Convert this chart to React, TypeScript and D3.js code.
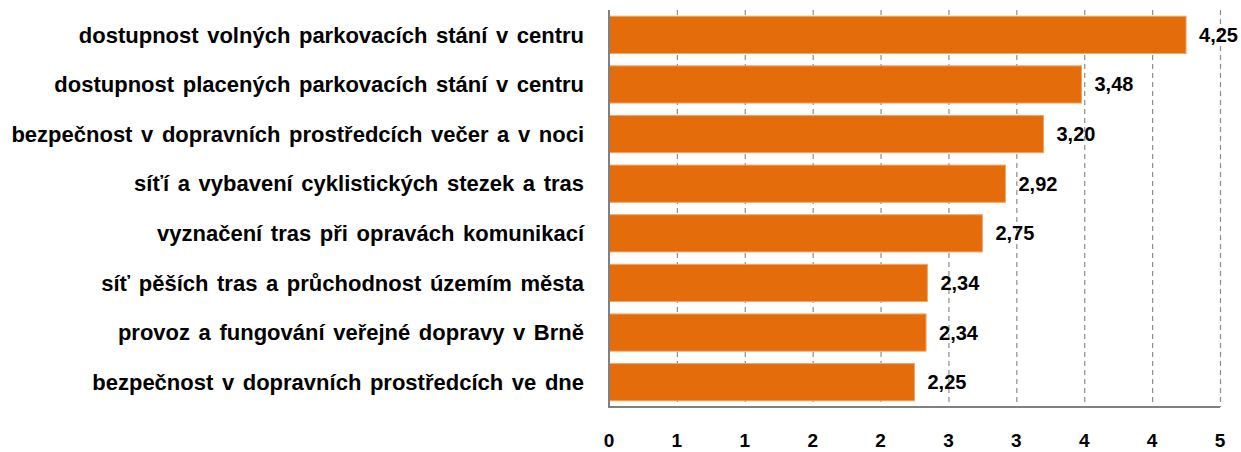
import React, { useEffect, useRef } from 'react';
import * as d3 from 'd3';

// data
const categories = [
	'dostupnost volných parkovacích stání v centru',
	'dostupnost placených parkovacích stání v centru',
	'bezpečnost v dopravních prostředcích večer a v noci',
	'síťí a vybavení cyklistických stezek a tras',
	'vyznačení tras při opravách komunikací',
	'síť pěších tras a průchodnost územím města',
	'provoz a fungování veřejné dopravy v Brně',
	'bezpečnost v dopravních prostředcích ve dne',
];
const values = [4.25, 3.48, 3.20, 2.92, 2.75, 2.345, 2.335, 2.25];
const valueLabels = ['4,25', '3,48', '3,20', '2,92', '2,75', '2,34', '2,34', '2,25'];
const tickValues = [0, 0.5, 1, 1.5, 2, 2.5, 3, 3.5, 4, 4.5];
const tickLabels = ['0', '1', '1', '2', '2', '3', '3', '4', '4', '5'];

const W = 1241;
const H = 452;
const margin = { left: 609, right: 21, top: 10, bottom: 45 };
const font = 'Arial, "Liberation Sans", sans-serif';

export default function App() {
	const ref = useRef<SVGSVGElement>(null);

	useEffect(() => {
		const svg = d3.select(ref.current);
		svg.selectAll('*').remove();

		const x = d3.scaleLinear().domain([0, 4.5]).range([margin.left, W - margin.right]);
		const y = d3.scaleBand<number>()
			.domain(d3.range(categories.length))
			.range([margin.top, H - margin.bottom])
			.paddingInner(0.25)
			.paddingOuter(0.125);

		// dashed grid
		svg.append('g')
			.selectAll('line')
			.data(tickValues.slice(1))
			.join('line')
			.attr('x1', d => x(d) + 0.5)
			.attr('x2', d => x(d) + 0.5)
			.attr('y1', margin.top)
			.attr('y2', H - margin.bottom)
			.attr('stroke', '#8c8c8c')
			.attr('stroke-width', 1.2)
			.attr('stroke-dasharray', '5,4');

		// bars
		svg.append('g')
			.selectAll('rect')
			.data(values)
			.join('rect')
			.attr('x', x(0))
			.attr('y', (d, i) => y(i)!)
			.attr('width', d => x(d) - x(0))
			.attr('height', y.bandwidth())
			.attr('fill', '#E46C0A')
			.attr('stroke', '#F3A466')
			.attr('stroke-width', 1);

		// value labels
		svg.append('g')
			.selectAll('text')
			.data(values)
			.join('text')
			.attr('x', d => x(d) + 13)
			.attr('y', (d, i) => y(i)! + y.bandwidth() / 2)
			.attr('dy', '0.35em')
			.attr('font-family', font)
			.attr('font-weight', 'bold')
			.attr('font-size', 20)
			.attr('fill', '#000')
			.text((d, i) => valueLabels[i]);

		// category labels
		svg.append('g')
			.selectAll('text')
			.data(categories)
			.join('text')
			.attr('x', 584)
			.attr('y', (d, i) => y(i)! + y.bandwidth() / 2)
			.attr('dy', '0.35em')
			.attr('text-anchor', 'end')
			.attr('font-family', font)
			.attr('font-weight', 'bold')
			.attr('font-size', 22)
			.attr('word-spacing', 2.5)
			.attr('fill', '#000')
			.text(d => d);

		// axis lines
		svg.append('line')
			.attr('x1', x(0)).attr('x2', x(0))
			.attr('y1', margin.top).attr('y2', H - margin.bottom)
			.attr('stroke', '#808080').attr('stroke-width', 2);
		svg.append('line')
			.attr('x1', x(0) - 1).attr('x2', x(4.5))
			.attr('y1', H - margin.bottom).attr('y2', H - margin.bottom)
			.attr('stroke', '#808080').attr('stroke-width', 2);

		// x tick labels
		svg.append('g')
			.selectAll('text')
			.data(tickValues)
			.join('text')
			.attr('x', d => x(d))
			.attr('y', 447)
			.attr('text-anchor', 'middle')
			.attr('font-family', font)
			.attr('font-weight', 'bold')
			.attr('font-size', 19)
			.attr('fill', '#000')
			.text((d, i) => tickLabels[i]);
	}, []);

	return (
		<svg
			ref={ref}
			width={W}
			height={H}
			style={{ position: 'absolute', left: 0, top: 0, background: '#fff' }}
		/>
	);
}
